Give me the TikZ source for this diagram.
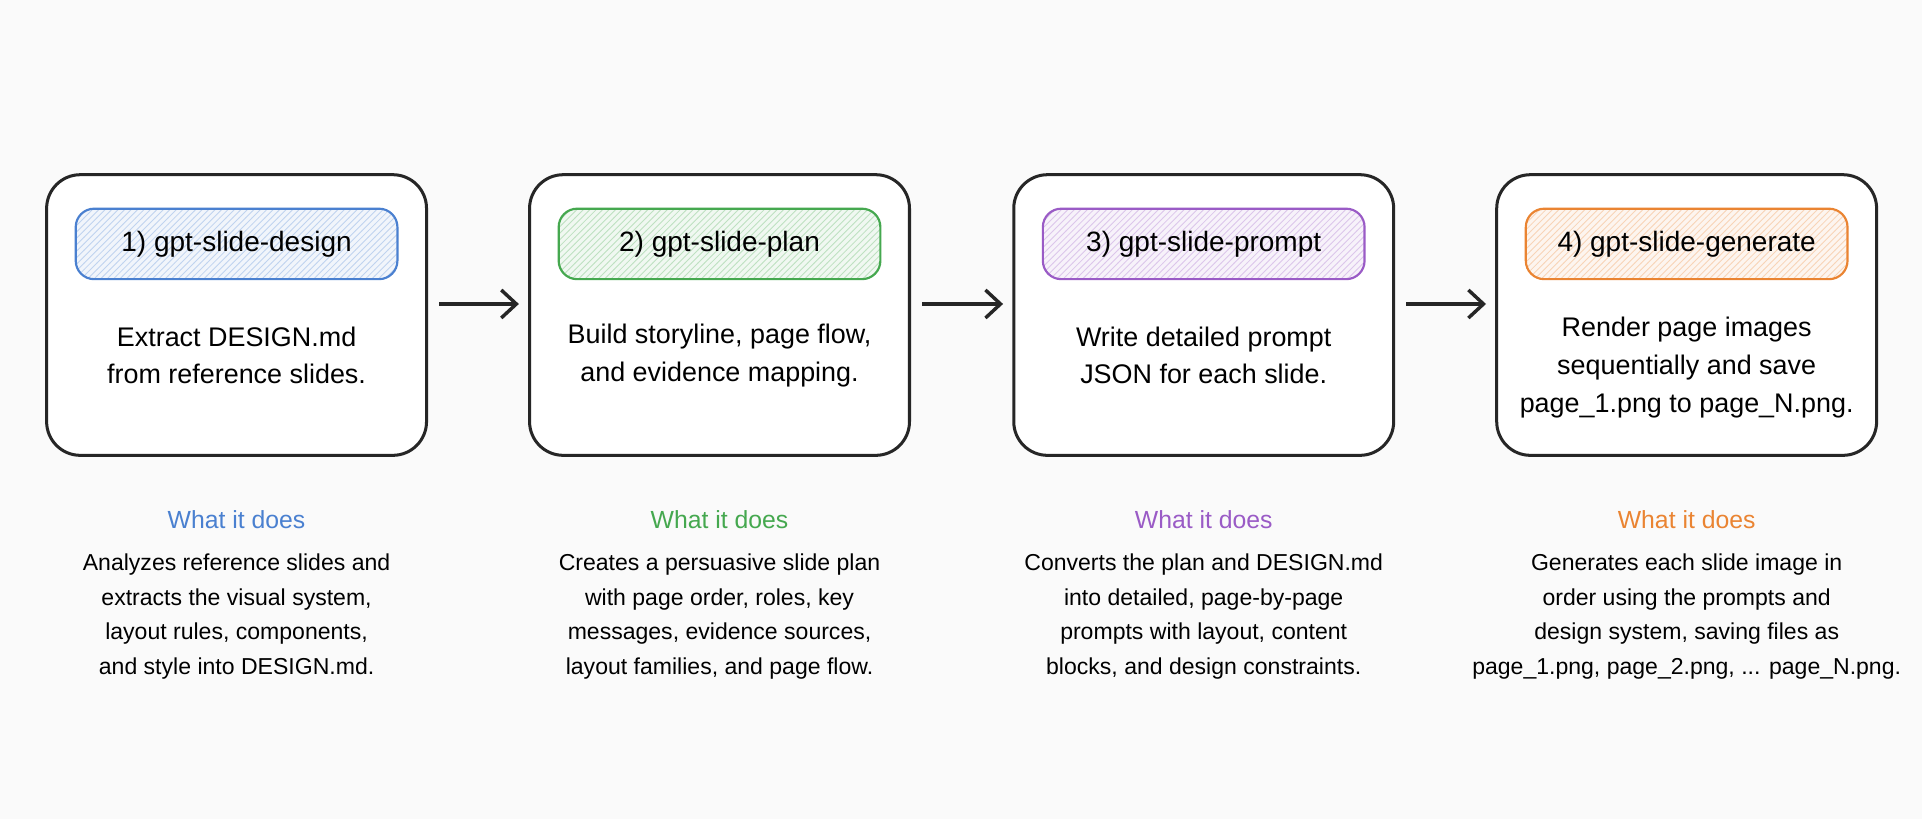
\documentclass[tikz,border=0pt]{standalone}
\usepackage{fontspec}
\setmainfont{Liberation Sans}
\usetikzlibrary{patterns,arrows.meta}
\definecolor{cb}{HTML}{4A80D0}
\definecolor{cg}{HTML}{45A84F}
\definecolor{cp}{HTML}{9A5BC6}
\definecolor{co}{HTML}{EA8432}
\begin{document}
\begin{tikzpicture}[x=0.02cm,y=-0.02cm,
  box/.style={draw=black!85,line width=1.4pt,rounded corners=0.55cm,minimum width=6.2cm,minimum height=4.58cm,fill=white},
  pill/.style={draw=#1,line width=1pt,rounded corners=0.3cm,minimum width=5.25cm,minimum height=1.15cm,preaction={fill=#1!8},pattern=north east lines,pattern color=#1!35,font=\fontsize{13}{15}\selectfont},
  body/.style={align=center,font=\fontsize{12.5}{17.5}\selectfont},
  what/.style={text=#1,font=\fontsize{11.5}{14}\selectfont},
  desc/.style={align=center,font=\fontsize{10.7}{16}\selectfont},
  arr/.style={-{Straight Barb[length=7pt,width=13pt]},line width=1.6pt,black!85}]
\fill[white!98!black] (0,0) rectangle (1568,668);
\foreach \i/\x/\c/\t in {1/193/cb/{1) gpt-slide-design},2/587/cg/{2) gpt-slide-plan},3/982/cp/{3) gpt-slide-prompt},4/1376/co/{4) gpt-slide-generate}}{
  \node[box] (b\i) at (\x,257) {};
  \node[pill=\c] (p\i) at (\x,199) {\t};
  \node[what=\c] (w\i) at (\x,424) {What it does};
}
\node[body] (t1) at (193,290) {Extract DESIGN.md\\from reference slides.};
\node[body] (t2) at (587,290) {Build storyline, page flow,\\and evidence mapping.};
\node[body] (t3) at (982,290) {Write detailed prompt\\JSON for each slide.};
\node[body] (t4) at (1376,300) {Render page images\\sequentially and save\\page\_1.png to page\_N.png.};
\node[desc] (d1) at (193,503) {Analyzes reference slides and\\extracts the visual system,\\layout rules, components,\\and style into DESIGN.md.};
\node[desc] (d2) at (587,503) {Creates a persuasive slide plan\\with page order, roles, key\\messages, evidence sources,\\layout families, and page flow.};
\node[desc] (d3) at (982,503) {Converts the plan and DESIGN.md\\into detailed, page-by-page\\prompts with layout, content\\blocks, and design constraints.};
\node[desc] (d4) at (1376,503) {Generates each slide image in\\order using the prompts and\\design system, saving files as\\page\_1.png, page\_2.png, ... page\_N.png.};
\draw[arr] ([xshift=0.18cm,yshift=0.18cm]b1.east) -- ([xshift=-0.15cm,yshift=0.18cm]b2.west);
\draw[arr] ([xshift=0.18cm,yshift=0.18cm]b2.east) -- ([xshift=-0.15cm,yshift=0.18cm]b3.west);
\draw[arr] ([xshift=0.18cm,yshift=0.18cm]b3.east) -- ([xshift=-0.15cm,yshift=0.18cm]b4.west);
\end{tikzpicture}
\end{document}
